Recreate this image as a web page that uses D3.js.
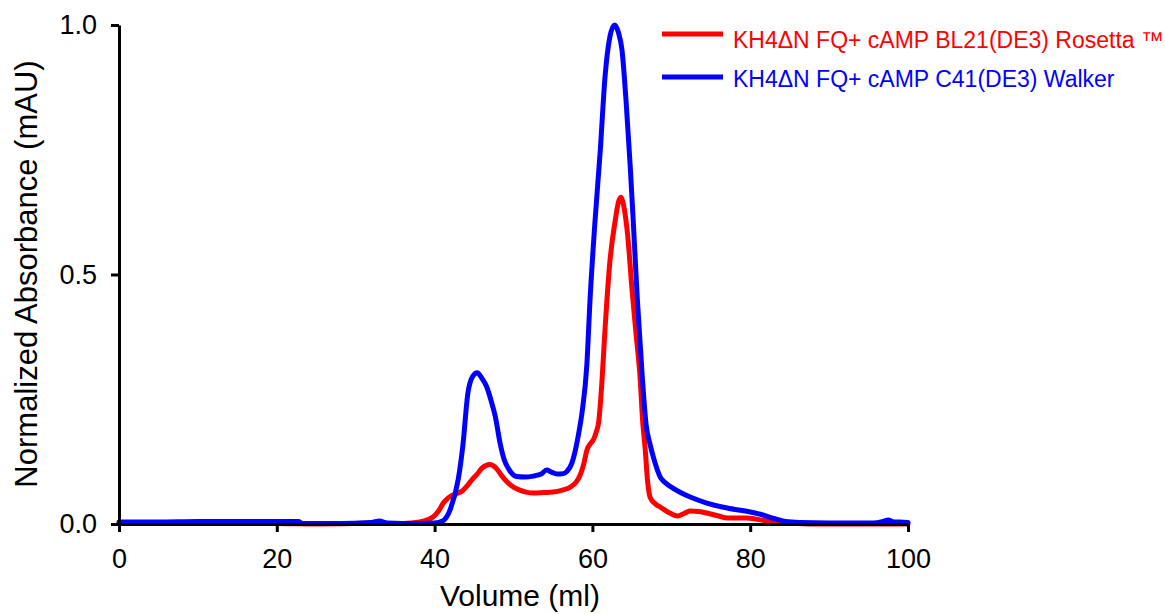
<!DOCTYPE html>
<html>
<head>
<meta charset="utf-8">
<script src="https://cdn.jsdelivr.net/npm/d3@7"></script>
<style>
  html, body { margin: 0; padding: 0; background: #fff; }
  svg { display: block; }
  text { font-family: "Liberation Sans", Arial, sans-serif; fill: #000; }
</style>
</head>
<body>
<svg id="chart" width="1165" height="614"></svg>
<script>
// Elution volumes (ml) and normalized absorbance for each construct
const rosettaVolume = [0, 20, 25, 32, 33, 34, 36, 38.1, 39, 39.8, 40.5, 41.1, 41.7, 42.3, 43, 43.5, 44.1, 44.7, 45.4, 46, 46.5, 47, 47.5, 47.9, 48.5, 49.2, 50, 50.8, 51.6, 52.5, 53.8, 55, 56.2, 57.2, 57.9, 58.4, 58.9, 59.3, 59.8, 60.1, 60.5, 60.8, 61.2, 61.6, 62.2, 62.9, 63.3, 63.6, 64.0, 64.4, 65.1, 65.6, 66.0, 66.4, 66.7, 67.0, 67.3, 68, 68.6, 69.8, 70.8, 71.6, 72.4, 73.5, 74.5, 76, 77.1, 79.6, 82.1, 85, 88, 100];
const rosettaAbs = [0.001, 0.001, 0.0, 0.002, 0.005, 0.001, 0.001, 0.004, 0.008, 0.014, 0.026, 0.042, 0.052, 0.058, 0.062, 0.066, 0.076, 0.088, 0.1, 0.112, 0.117, 0.119, 0.116, 0.11, 0.097, 0.084, 0.074, 0.068, 0.064, 0.062, 0.063, 0.064, 0.068, 0.074, 0.083, 0.096, 0.12, 0.148, 0.162, 0.168, 0.185, 0.205, 0.283, 0.39, 0.523, 0.609, 0.645, 0.655, 0.635, 0.589, 0.455, 0.37, 0.303, 0.2, 0.148, 0.085, 0.054, 0.04, 0.034, 0.022, 0.016, 0.021, 0.026, 0.025, 0.022, 0.016, 0.012, 0.012, 0.006, 0.002, 0.0, 0.0];

const walkerVolume = [0, 5, 10, 15, 20, 22.8, 23.2, 28, 32, 33, 34, 38, 40, 41, 42, 43, 43.6, 44.2, 44.8, 45.4, 46, 46.6, 47.2, 47.7, 48.3, 48.8, 49.4, 50.4, 51.5, 52.5, 53.5, 54.2, 54.8, 55.5, 56.3, 56.8, 57.4, 57.8, 58.3, 58.7, 59.3, 59.7, 60.3, 61.0, 61.6, 62.2, 62.8, 63.3, 63.75, 64.3, 64.8, 65.2, 65.7, 66.3, 66.8, 67.3, 67.8, 68.6, 69.3, 70.2, 72.4, 74.5, 77.1, 80, 81.6, 83, 84.5, 86.3, 90, 95.6, 96.8, 97.5, 98.2, 99, 100];
const walkerAbs = [0.004, 0.004, 0.005, 0.005, 0.005, 0.005, 0.001, 0.001, 0.003, 0.006, 0.002, 0.001, 0.002, 0.006, 0.03, 0.09, 0.16, 0.26, 0.295, 0.303, 0.292, 0.275, 0.245, 0.215, 0.162, 0.13, 0.11, 0.095, 0.094, 0.096, 0.1, 0.108, 0.104, 0.1, 0.101, 0.106, 0.122, 0.145, 0.185, 0.225, 0.32, 0.449, 0.6, 0.749, 0.896, 0.975, 1.0, 0.985, 0.95, 0.84, 0.715, 0.6, 0.449, 0.3, 0.2, 0.16, 0.13, 0.094, 0.082, 0.072, 0.054, 0.042, 0.032, 0.024, 0.018, 0.011, 0.005, 0.003, 0.002, 0.002, 0.005, 0.008, 0.004, 0.004, 0.003];

const seriesNames = ["KH4\u0394N FQ+ cAMP BL21(DE3) Rosetta \u2122", "KH4\u0394N FQ+ cAMP C41(DE3) Walker"];
const seriesColors = ["#ff0000", "#0000ff"];
const xTicks = [0, 20, 40, 60, 80, 100];
const yTicks = [0, 0.5, 1.0];

const svg = d3.select("#chart");

const x = d3.scaleLinear().domain([0, 100]).range([119, 908]);
const y = d3.scaleLinear().domain([0, 1]).range([524, 25]);

const series = [
  { name: seriesNames[0], color: seriesColors[0], pts: rosettaVolume.map((v, i) => [v, rosettaAbs[i]]) },
  { name: seriesNames[1], color: seriesColors[1], pts: walkerVolume.map((v, i) => [v, walkerAbs[i]]) }
];

const line = d3.line()
  .x(d => x(d[0]))
  .y(d => y(d[1]))
  .curve(d3.curveMonotoneX);

// Traces
svg.append("g").selectAll("path")
  .data(series)
  .join("path")
  .attr("d", d => line(d.pts))
  .attr("fill", "none")
  .attr("stroke", d => d.color)
  .attr("stroke-width", 5)
  .attr("stroke-linejoin", "round")
  .attr("stroke-linecap", "round");

// Axes
const xAxis = svg.append("g")
  .attr("transform", `translate(0,${y(0)})`)
  .call(d3.axisBottom(x).tickValues(xTicks).tickFormat(d3.format("d")).tickSize(8).tickSizeOuter(0).tickPadding(17));

const yAxis = svg.append("g")
  .attr("transform", `translate(${x(0)},0)`)
  .call(d3.axisLeft(y).tickValues(yTicks).tickFormat(d3.format(".1f")).tickSize(8).tickSizeOuter(0).tickPadding(14));

[xAxis, yAxis].forEach(g => {
  g.select(".domain").attr("stroke", "#000").attr("stroke-width", 3);
  g.selectAll(".tick line").attr("stroke", "#000").attr("stroke-width", 3);
  g.selectAll(".tick text").attr("font-family", "Liberation Sans, Arial, sans-serif").attr("font-size", 27).attr("fill", "#000");
});

// Axis titles
svg.append("text")
  .attr("x", 520)
  .attr("y", 606)
  .attr("text-anchor", "middle")
  .attr("font-size", 30)
  .text("Volume (ml)");

svg.append("text")
  .attr("transform", `translate(37,274) rotate(-90)`)
  .attr("text-anchor", "middle")
  .attr("font-size", 31)
  .text("Normalized Absorbance (mAU)");

// Legend
const legend = svg.append("g");
const legendRows = [{ y: 34, base: 48 }, { y: 77, base: 87 }];
series.forEach((s, i) => {
  legend.append("line")
    .attr("x1", 662).attr("x2", 723)
    .attr("y1", legendRows[i].y).attr("y2", legendRows[i].y)
    .attr("stroke", s.color)
    .attr("stroke-width", 5);
  legend.append("text")
    .attr("x", 733)
    .attr("y", legendRows[i].base)
    .attr("font-size", 23)
    .style("fill", s.color)
    .text(s.name);
});
</script>
</body>
</html>
